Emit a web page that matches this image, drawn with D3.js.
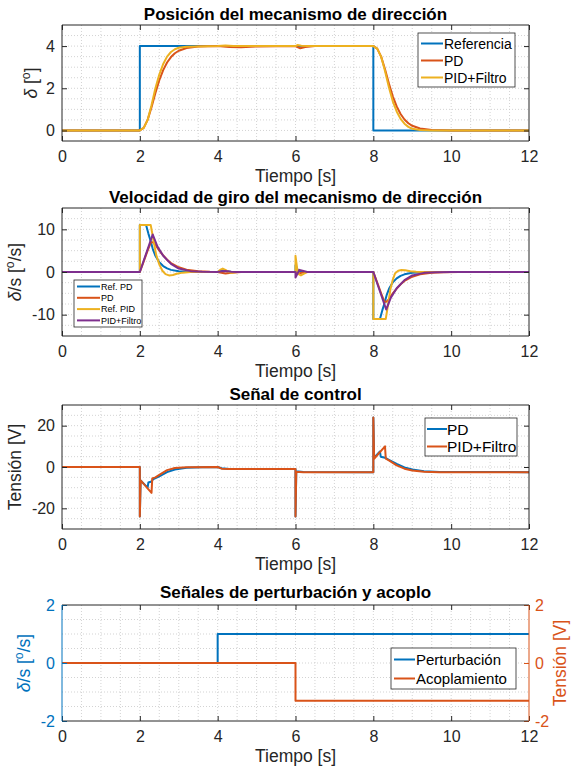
<!DOCTYPE html>
<html>
<head>
<meta charset="utf-8">
<title>Mecanismo de dirección</title>
<style>
  body { margin: 0; background: #fff; }
  svg { display: block; font-family: "Liberation Sans", Arial, Helvetica, sans-serif; }
</style>
</head>
<body>
<div id="fig"></div>
<script src="https://d3js.org/d3.v7.min.js"></script>
<script>
// eje de tiempo común
const timeTicks = [0, 2, 4, 6, 8, 10, 12];

// posición del mecanismo [grados]
const posRef = [[0,0],[2,0],[2,4],[8,4],[8,0],[12,0]];
const posPD = [[0,0],[2,0],[2.1,0.12],[2.2,0.5],[2.3,1.1],[2.4,1.78],[2.5,2.38],[2.6,2.86],[2.7,3.22],[2.8,3.48],[2.9,3.66],[3.0,3.78],[3.2,3.91],[3.5,3.98],[4,4.0],[4.3,3.96],[4.6,3.95],[5.0,3.98],[6.0,4.0],[6.05,3.95],[6.12,3.9],[6.25,3.96],[6.5,4.0],[8,4.0],[8.1,3.88],[8.2,3.5],[8.3,2.9],[8.4,2.22],[8.5,1.62],[8.6,1.14],[8.7,0.78],[8.8,0.52],[8.9,0.34],[9.0,0.22],[9.2,0.09],[9.5,0.02],[10,0],[12,0]];
const posPID = [[0,0],[2,0],[2.1,0.12],[2.2,0.5],[2.3,1.2],[2.4,2.0],[2.5,2.65],[2.6,3.15],[2.7,3.5],[2.8,3.72],[2.9,3.85],[3.0,3.92],[3.2,3.97],[4.0,4.0],[4.2,4.03],[4.4,4.0],[6.0,4.0],[6.05,4.05],[6.15,4.02],[6.3,4.0],[8,4.0],[8.1,3.88],[8.2,3.5],[8.3,2.82],[8.4,2.05],[8.5,1.38],[8.6,0.9],[8.7,0.55],[8.8,0.32],[8.9,0.17],[9.0,0.08],[9.2,0.02],[9.5,0],[12,0]];

// velocidad de giro [grados/s]
const velRefPD = [[0,0],[2,0],[2,11],[2.16,11],[2.22,9],[2.27,7.5],[2.33,5.5],[2.4,3.8],[2.5,2.3],[2.6,1.4],[2.7,0.85],[2.8,0.5],[3.0,0.18],[3.3,0.05],[3.6,0],[4.0,0],[4.08,0.3],[4.16,0.4],[4.25,0.15],[4.35,0],[6.0,0],[6.0,1.6],[6.05,0.6],[6.1,0.2],[6.2,0],[8,0],[8,-11],[8.17,-11],[8.23,-9],[8.28,-7.5],[8.34,-5.5],[8.41,-3.8],[8.5,-2.4],[8.6,-1.5],[8.7,-0.9],[8.8,-0.55],[9.0,-0.2],[9.3,-0.05],[9.6,0],[12,0]];
const velPD = [[0,0],[2,0],[2.1,2.5],[2.2,5.0],[2.28,6.9],[2.33,7.0],[2.4,6.4],[2.5,5.0],[2.6,3.9],[2.7,2.9],[2.8,2.1],[3.0,1.1],[3.2,0.55],[3.5,0.2],[3.8,0.06],[4.0,0.02],[4.1,-0.2],[4.2,-0.35],[4.35,-0.2],[4.6,0],[6,0],[6.03,-0.45],[6.1,-0.3],[6.25,0],[8,0],[8.1,-2.5],[8.2,-5.0],[8.28,-6.9],[8.33,-7.0],[8.4,-6.4],[8.5,-5.0],[8.6,-3.9],[8.7,-2.9],[8.8,-2.1],[9.0,-1.1],[9.2,-0.55],[9.5,-0.2],[9.8,-0.06],[10.2,0],[12,0]];
const velRefPID = [[0,0],[2,0],[2,11],[2.28,11],[2.35,7.5],[2.42,4.0],[2.5,1.8],[2.58,0.3],[2.66,-0.5],[2.75,-0.8],[2.85,-0.7],[2.95,-0.4],[3.1,-0.15],[3.3,0],[4.0,0],[4.06,0.5],[4.13,0.8],[4.2,0.5],[4.28,0],[4.35,-0.2],[4.5,0],[6,0],[6,3.8],[6.04,1.0],[6.08,-0.5],[6.14,-0.8],[6.22,-0.4],[6.3,0],[8,0],[8,-11],[8.32,-11],[8.38,-7.5],[8.44,-4.0],[8.5,-1.8],[8.56,-0.3],[8.64,0.3],[8.72,0.45],[8.82,0.4],[8.95,0.2],[9.1,0.05],[9.3,0],[12,0]];
const velPID = [[0,0],[2,0],[2.33,8.8],[2.45,6.0],[2.6,3.8],[2.8,1.9],[3.0,0.8],[3.3,0.2],[3.6,0.05],[4.0,0],[4.1,0.2],[4.2,0.25],[4.35,0.05],[4.5,0],[6,0],[6.0,-1.3],[6.05,-0.4],[6.1,0.5],[6.18,0.3],[6.3,0],[8,0],[8.33,-8.8],[8.45,-6.0],[8.6,-3.8],[8.8,-1.9],[9.0,-0.8],[9.3,-0.2],[9.6,-0.05],[10,0],[12,0]];

// señal de control [V]
const uPD = [[0,0],[2,0],[2,-24],[2.02,-6.5],[2.2,-10],[2.22,-7.5],[2.3,-7],[2.35,-5.8],[2.5,-4.5],[2.7,-2.5],[2.9,-1.2],[3.2,-0.4],[3.6,-0.1],[4,0],[4.1,-0.6],[4.3,-1.0],[6,-1.0],[6,-24],[6.02,-2],[6.2,-2.4],[8,-2.5],[8,24],[8.02,4.5],[8.17,7.5],[8.19,5],[8.3,4.5],[8.4,3.5],[8.6,1.5],[8.8,-0.2],[9.0,-1.2],[9.3,-2.0],[9.7,-2.4],[12,-2.5]];
const uPID = [[0,0],[2,0],[2,-24],[2.02,-6.5],[2.3,-12.5],[2.32,-5.5],[2.4,-5],[2.5,-3.8],[2.7,-1.5],[2.9,-0.5],[3.2,-0.1],[4,0],[4.1,-0.8],[4.3,-1.0],[6,-1.0],[6,-24],[6.02,-2.3],[6.2,-2.5],[8,-2.5],[8,24],[8.02,4],[8.3,10],[8.32,4],[8.4,3.2],[8.6,0.8],[8.8,-0.8],[9.0,-1.7],[9.3,-2.3],[9.7,-2.5],[12,-2.5]];

// perturbación [grados/s] y acoplamiento [V]
const perturbacion = [[0,0],[4,0],[4,1],[12,1]];
const acoplamiento = [[0,0],[6,0],[6,-1.3],[12,-1.3]];

const azul = "#0072BD", naranja = "#D95319", amarillo = "#EDB120", morado = "#7E2F8E";
const gris = "#262626";

const W = 586, H = 771;
const svg = d3.select("#fig").append("svg").attr("width", W).attr("height", H);

const x = d3.scaleLinear().domain([0, 12]).range([62, 529]);

// etiqueta con superíndice "o" (grados)
function gradosLabel(sel, parts) {
  parts.forEach(p => {
    const t = sel.append("tspan").text(p.t);
    if (p.it) t.attr("font-style", "italic");
    if (p.sup) t.attr("font-size", "0.7em").attr("dy", "-0.55em");
    if (p.down) t.attr("dy", "0.385em");
  });
}

function panel(cfg) {
  const g = svg.append("g");
  const y = d3.scaleLinear().domain(cfg.yDomain).range([cfg.bottom, cfg.top]);
  const y2 = cfg.y2Domain ? d3.scaleLinear().domain(cfg.y2Domain).range([cfg.bottom, cfg.top]) : null;

  // rejilla menor
  const grid = g.append("g").attr("stroke", "#c8c8c8").attr("stroke-width", 0.8).attr("stroke-dasharray", "1,2");
  grid.selectAll(null).data(d3.range(0.5, 12, 0.5)).join("line")
    .attr("x1", d => x(d)).attr("x2", d => x(d)).attr("y1", cfg.top).attr("y2", cfg.bottom);
  const n = Math.round((cfg.yDomain[1] - cfg.yDomain[0]) / cfg.yMinor);
  grid.selectAll(null).data(d3.range(1, n).map(i => cfg.yDomain[0] + i * cfg.yMinor)).join("line")
    .attr("y1", d => y(d)).attr("y2", d => y(d)).attr("x1", x(0)).attr("x2", x(12));

  // curvas
  const line = s => d3.line().x(d => x(d[0])).y(d => (s.right ? y2 : y)(d[1]));
  g.selectAll(null).data(cfg.series).join("path")
    .attr("d", s => line(s)(s.data))
    .attr("fill", "none").attr("stroke", s => s.color).attr("stroke-width", 2)
    .attr("stroke-linejoin", "round");

  // ejes con marcas hacia dentro
  const fmt = d => String(d);
  const styleAxis = (a, color) => {
    a.select(".domain").remove();
    a.selectAll("line").attr("stroke", color);
    a.selectAll("text").attr("fill", color).attr("font-size", 16)
      .attr("font-family", "Liberation Sans, Arial, sans-serif");
  };
  styleAxis(g.append("g").attr("transform", `translate(0,${cfg.bottom})`)
    .call(d3.axisBottom(x).tickValues(timeTicks).tickSize(-5).tickPadding(10).tickFormat(fmt)), gris);
  styleAxis(g.append("g").attr("transform", `translate(0,${cfg.top})`)
    .call(d3.axisTop(x).tickValues(timeTicks).tickSize(-5).tickFormat("")), gris);
  const leftColor = cfg.leftColor || gris;
  styleAxis(g.append("g").attr("transform", `translate(${x(0)},0)`)
    .call(d3.axisLeft(y).tickValues(cfg.yTicks).tickSize(-5).tickPadding(7).tickFormat(fmt)), leftColor);
  if (y2) {
    styleAxis(g.append("g").attr("transform", `translate(${x(12)},0)`)
      .call(d3.axisRight(y2).tickValues(cfg.y2Ticks).tickSize(-5).tickPadding(6).tickFormat(fmt)), naranja);
  } else {
    styleAxis(g.append("g").attr("transform", `translate(${x(12)},0)`)
      .call(d3.axisRight(y).tickValues(cfg.yTicks).tickSize(-5).tickFormat("")), gris);
  }

  // marco
  const frame = g.append("g").attr("stroke-width", 1).attr("fill", "none");
  frame.append("line").attr("x1", x(0)).attr("x2", x(12)).attr("y1", cfg.top).attr("y2", cfg.top).attr("stroke", gris);
  frame.append("line").attr("x1", x(0)).attr("x2", x(12)).attr("y1", cfg.bottom).attr("y2", cfg.bottom).attr("stroke", gris);
  frame.append("line").attr("x1", x(0)).attr("x2", x(0)).attr("y1", cfg.top).attr("y2", cfg.bottom).attr("stroke", leftColor);
  frame.append("line").attr("x1", x(12)).attr("x2", x(12)).attr("y1", cfg.top).attr("y2", cfg.bottom).attr("stroke", y2 ? naranja : gris);

  // títulos y etiquetas
  g.append("text").attr("x", (x(0) + x(12)) / 2).attr("y", cfg.top - (cfg.titleGap || 11)).attr("dy", "0.36em")
    .attr("text-anchor", "middle").attr("font-weight", "bold").attr("font-size", 17).attr("fill", "#000")
    .text(cfg.title);
  g.append("text").attr("x", (x(0) + x(12)) / 2).attr("y", cfg.bottom + 35).attr("dy", "0.36em")
    .attr("text-anchor", "middle").attr("font-size", 17.5).attr("fill", gris).text("Tiempo [s]");
  const cy = (cfg.top + cfg.bottom) / 2;
  const yl = g.append("text").attr("transform", `translate(${cfg.ylabelX},${cy}) rotate(-90)`)
    .attr("text-anchor", "middle").attr("font-size", 17.5).attr("fill", leftColor);
  gradosLabel(yl, cfg.ylabel);
  if (cfg.y2Label) {
    g.append("text").attr("transform", `translate(${cfg.y2LabelX},${cy}) rotate(-90)`)
      .attr("text-anchor", "middle").attr("font-size", 17.5).attr("fill", naranja).text(cfg.y2Label);
  }

  // leyenda
  const L = cfg.legend;
  const lg = g.append("g");
  lg.append("rect").attr("x", L.x).attr("y", L.y).attr("width", L.w).attr("height", L.h)
    .attr("fill", "#fff").attr("stroke", gris).attr("stroke-width", 0.8);
  L.rows.forEach((r, i) => {
    const s = cfg.series[i];
    const ry = L.y + L.first + i * L.step;
    lg.append("line").attr("x1", L.lx1).attr("x2", L.lx2).attr("y1", ry).attr("y2", ry)
      .attr("stroke", s.color).attr("stroke-width", 2);
    lg.append("text").attr("x", L.tx).attr("y", ry).attr("dy", "0.36em")
      .attr("font-size", L.fs).attr("fill", "#000").text(r);
  });
}

panel({
  title: "Posición del mecanismo de dirección",
  top: 25, bottom: 141, yDomain: [-0.5, 5], yTicks: [0, 2, 4], yMinor: 0.5,
  ylabelX: 37, ylabel: [{t: "δ", it: true}, {t: " ["}, {t: "o", sup: true}, {t: "]", down: true}],
  series: [{data: posRef, color: azul}, {data: posPD, color: naranja}, {data: posPID, color: amarillo}],
  legend: {x: 418, y: 33, w: 97, h: 54, first: 10.5, step: 17, lx1: 421, lx2: 443, tx: 444, fs: 14,
           rows: ["Referencia", "PD", "PID+Filtro"]}
});

panel({
  title: "Velocidad de giro del mecanismo de dirección",
  top: 208, bottom: 336, yDomain: [-15, 15], yTicks: [-10, 0, 10], yMinor: 2.5,
  ylabelX: 21, ylabel: [{t: "δ", it: true}, {t: "/s ["}, {t: "o", sup: true}, {t: "/s]", down: true}],
  series: [{data: velRefPD, color: azul}, {data: velPD, color: naranja}, {data: velRefPID, color: amarillo}, {data: velPID, color: morado}],
  legend: {x: 74, y: 280, w: 68, h: 47, first: 6.5, step: 11.3, lx1: 77, lx2: 100, tx: 101, fs: 9,
           rows: ["Ref. PD", "PD", "Ref. PID", "PID+Filtro"]}
});

panel({
  title: "Señal de control",
  top: 405, bottom: 529, yDomain: [-30, 30], yTicks: [-20, 0, 20], yMinor: 5,
  ylabelX: 21, ylabel: [{t: "Tensión [V]"}],
  series: [{data: uPD, color: azul}, {data: uPID, color: naranja}],
  legend: {x: 425, y: 418, w: 92, h: 38, first: 11, step: 17.5, lx1: 427, lx2: 447, tx: 447, fs: 15.5,
           rows: ["PD", "PID+Filtro"]}
});

panel({
  title: "Señales de perturbación y acoplo", titleGap: 13,
  top: 605, bottom: 721, yDomain: [-2, 2], yTicks: [-2, 0, 2], yMinor: 0.5,
  y2Domain: [-2, 2], y2Ticks: [-2, 0, 2], y2Label: "Tensión [V]", y2LabelX: 566,
  leftColor: azul,
  ylabelX: 30, ylabel: [{t: "δ", it: true}, {t: "/s ["}, {t: "o", sup: true}, {t: "/s]", down: true}],
  series: [{data: perturbacion, color: azul}, {data: acoplamiento, color: naranja, right: true}],
  legend: {x: 391, y: 648, w: 125, h: 41, first: 11.5, step: 19, lx1: 394, lx2: 415, tx: 416, fs: 15,
           rows: ["Perturbación", "Acoplamiento"]}
});
</script>
</body>
</html>
